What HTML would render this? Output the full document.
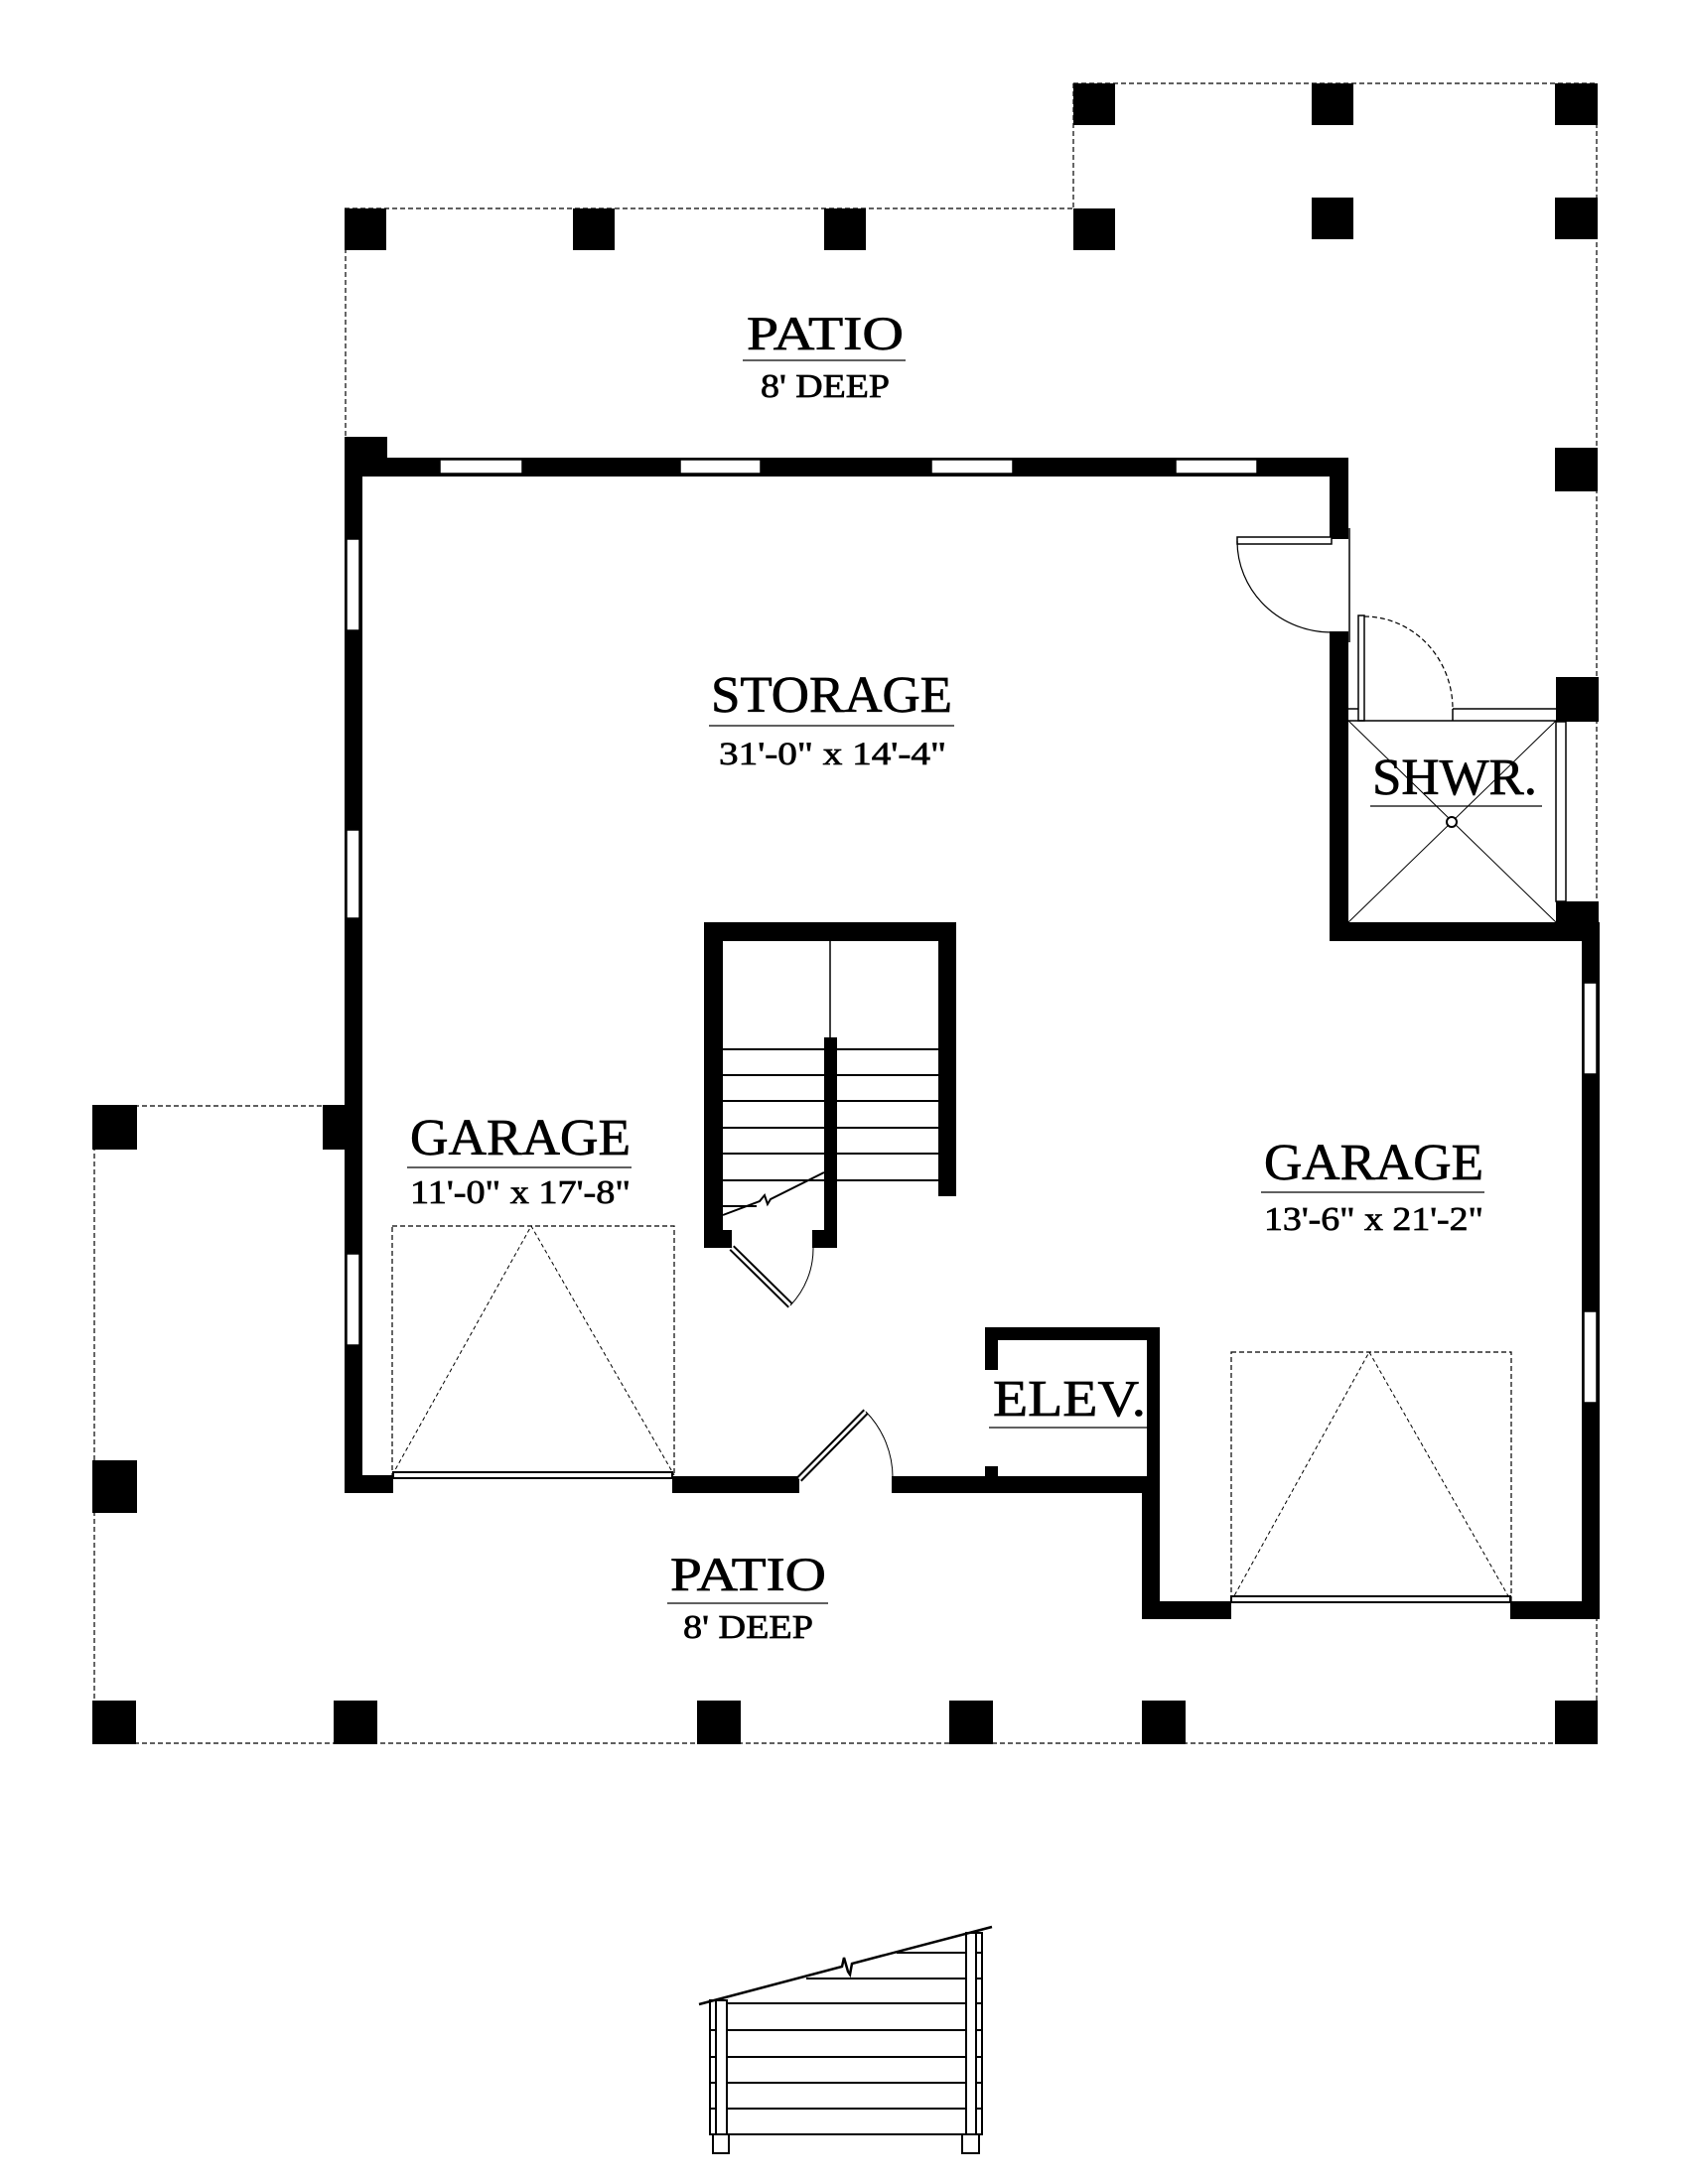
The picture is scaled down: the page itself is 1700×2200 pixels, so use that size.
<!DOCTYPE html>
<html><head><meta charset="utf-8"><style>
html,body{margin:0;padding:0;background:#fff;}
svg{display:block;}
text{font-family:"Liberation Serif",serif;fill:#000;stroke:#000;stroke-width:0.7;}
</style></head><body>
<svg width="1700" height="2200" viewBox="0 0 1700 2200" xmlns="http://www.w3.org/2000/svg">
<rect width="1700" height="2200" fill="#fff"/>
<g stroke="#000" stroke-width="1.2" stroke-dasharray="5,3" fill="none">
<line x1="1081" y1="84" x2="1608" y2="84"/>
<line x1="1081" y1="84" x2="1081" y2="210"/>
<line x1="347" y1="210" x2="1081" y2="210"/>
<line x1="348" y1="210" x2="348" y2="450"/>
<line x1="1608" y1="84" x2="1608" y2="1757"/>
<line x1="95" y1="1114" x2="347" y2="1114"/>
<line x1="95" y1="1114" x2="95" y2="1757"/>
<line x1="95" y1="1756" x2="1608" y2="1756"/>
</g>
<g fill="#000">
<rect x="1081" y="84" width="42" height="42"/>
<rect x="1321" y="84" width="42" height="42"/>
<rect x="1566" y="84" width="43" height="42"/>
<rect x="347" y="210" width="42" height="42"/>
<rect x="577" y="210" width="42" height="42"/>
<rect x="830" y="210" width="42" height="42"/>
<rect x="1081" y="210" width="42" height="42"/>
<rect x="1321" y="199" width="42" height="42"/>
<rect x="1566" y="199" width="43" height="42"/>
<rect x="1566" y="451" width="43" height="44"/>
<rect x="1567" y="682" width="43" height="45"/>
<rect x="93" y="1113" width="45" height="45"/>
<rect x="325" y="1113" width="22" height="45"/>
<rect x="93" y="1471" width="45" height="53"/>
<rect x="93" y="1713" width="44" height="44"/>
<rect x="336" y="1713" width="44" height="44"/>
<rect x="702" y="1713" width="44" height="44"/>
<rect x="956" y="1713" width="44" height="44"/>
<rect x="1150" y="1713" width="44" height="44"/>
<rect x="1566" y="1713" width="43" height="44"/>
</g>
<g fill="#000">
<rect x="347" y="440" width="43" height="40"/>
<rect x="347" y="461" width="1011" height="19"/>
<rect x="347" y="461" width="18" height="1043"/>
<rect x="1339" y="461" width="19" height="82"/>
<rect x="1339" y="636" width="19" height="312"/>
<rect x="1339" y="929" width="272" height="19"/>
<rect x="1567" y="908" width="43" height="40"/>
<rect x="1593" y="929" width="18" height="702"/>
<rect x="347" y="1486" width="49" height="18"/>
<rect x="677" y="1487" width="128" height="17"/>
<rect x="898" y="1487" width="270" height="17"/>
<rect x="1150" y="1487" width="18" height="144"/>
<rect x="1150" y="1613" width="90" height="18"/>
<rect x="1521" y="1613" width="90" height="18"/>
<rect x="992" y="1337" width="176" height="13"/>
<rect x="1155" y="1337" width="13" height="167"/>
<rect x="992" y="1337" width="13" height="43"/>
<rect x="992" y="1477" width="13" height="12"/>
<rect x="709" y="929" width="254" height="19"/>
<rect x="709" y="929" width="19" height="328"/>
<rect x="945" y="929" width="18" height="276"/>
<rect x="709" y="1239" width="28" height="18"/>
<rect x="830" y="1045" width="13" height="212"/>
<rect x="818" y="1239" width="25" height="18"/>
</g>
<g fill="#fff" stroke="#000" stroke-width="1.5">
<rect x="443" y="463" width="83" height="14"/>
<rect x="685" y="463" width="81" height="14"/>
<rect x="938" y="463" width="82" height="14"/>
<rect x="1184" y="463" width="82" height="14"/>
<rect x="349" y="543" width="13" height="92"/>
<rect x="349" y="836" width="13" height="89"/>
<rect x="349" y="1263" width="13" height="92"/>
<rect x="1595" y="990" width="13" height="92"/>
<rect x="1595" y="1321" width="13" height="92"/>
<rect x="1246" y="541" width="95" height="7"/>
<rect x="1368" y="620" width="6" height="106"/>
<rect x="1567" y="727" width="10" height="181"/>
</g>
<g stroke="#000" stroke-width="1.5" fill="none">
<line x1="1359" y1="532" x2="1359" y2="647"/>
<path d="M1246,545 A95,92 0 0 0 1341,637" stroke-width="1.2"/>
<path d="M1374,621 A89,93 0 0 1 1463,714" stroke-dasharray="5,3" stroke-width="1.2"/>
<line x1="1358" y1="714" x2="1368" y2="714"/>
<line x1="1358" y1="726" x2="1567" y2="726"/>
<line x1="1463" y1="714" x2="1567" y2="714"/>
<line x1="1463" y1="714" x2="1463" y2="726"/>
<line x1="1358" y1="726" x2="1567" y2="929" stroke-width="1"/>
<line x1="1567" y1="726" x2="1358" y2="929" stroke-width="1"/>
<circle cx="1462" cy="828" r="5" fill="#fff" stroke-width="2"/>
<line x1="836" y1="948" x2="836" y2="1045"/>
<g stroke-width="2">
<line x1="728" y1="1057" x2="945" y2="1057"/>
<line x1="728" y1="1083" x2="945" y2="1083"/>
<line x1="728" y1="1109" x2="945" y2="1109"/>
<line x1="728" y1="1136" x2="945" y2="1136"/>
<line x1="728" y1="1162" x2="945" y2="1162"/>
<line x1="728" y1="1189" x2="945" y2="1189"/>
<line x1="728" y1="1215" x2="762" y2="1215"/>
<polyline points="728,1224 765,1210 770,1204 773,1213 776,1208 830,1181"/>
</g>
<line x1="737" y1="1257" x2="796" y2="1315" stroke-width="7"/>
<line x1="737" y1="1257" x2="796" y2="1315" stroke="#fff" stroke-width="3"/>
<path d="M796,1315 A83,83 0 0 0 819,1257" stroke-width="1"/>
<line x1="805" y1="1490" x2="872" y2="1422" stroke-width="7"/>
<line x1="805" y1="1490" x2="872" y2="1422" stroke="#fff" stroke-width="3"/>
<path d="M872,1422 A95,95 0 0 1 899,1490" stroke-width="1"/>
</g>
<g stroke="#000" fill="none">
<rect x="395" y="1235" width="284" height="251" stroke-width="1.2" stroke-dasharray="5,3"/>
<polyline points="395,1486 535,1235 679,1486" stroke-width="1" stroke-dasharray="4,3"/>
<rect x="396" y="1483" width="281" height="6" fill="#fff" stroke-width="2"/>
<rect x="1240" y="1362" width="282" height="251" stroke-width="1.2" stroke-dasharray="5,3"/>
<polyline points="1240,1613 1379,1362 1522,1613" stroke-width="1" stroke-dasharray="4,3"/>
<rect x="1240" y="1608" width="281" height="6" fill="#fff" stroke-width="2"/>
</g>
<g stroke="#000" stroke-width="1.3">
<line x1="748" y1="363" x2="912" y2="363"/>
<line x1="714" y1="731" x2="961" y2="731"/>
<line x1="410" y1="1176" x2="636" y2="1176"/>
<line x1="1270" y1="1201" x2="1495" y2="1201"/>
<line x1="1380" y1="812" x2="1553" y2="812"/>
<line x1="996" y1="1438" x2="1155" y2="1438"/>
<line x1="672" y1="1615" x2="834" y2="1615"/>
</g>
<text x="752" y="352" font-size="48" textLength="158" lengthAdjust="spacingAndGlyphs">PATIO</text>
<text x="766" y="400" font-size="34" textLength="130" lengthAdjust="spacingAndGlyphs">8' DEEP</text>
<text x="716" y="717" font-size="52" textLength="243" lengthAdjust="spacingAndGlyphs">STORAGE</text>
<text x="724" y="770" font-size="33" textLength="229" lengthAdjust="spacingAndGlyphs">31'-0" x 14'-4"</text>
<text x="1382" y="800" font-size="52" textLength="166" lengthAdjust="spacingAndGlyphs">SHWR.</text>
<text x="413" y="1163" font-size="52" textLength="222" lengthAdjust="spacingAndGlyphs">GARAGE</text>
<text x="413" y="1212" font-size="34" textLength="222" lengthAdjust="spacingAndGlyphs">11'-0" x 17'-8"</text>
<text x="1273" y="1188" font-size="52" textLength="221" lengthAdjust="spacingAndGlyphs">GARAGE</text>
<text x="1273" y="1239" font-size="34" textLength="221" lengthAdjust="spacingAndGlyphs">13'-6" x 21'-2"</text>
<text x="1000" y="1426" font-size="52" textLength="154" lengthAdjust="spacingAndGlyphs">ELEV.</text>
<text x="675" y="1602" font-size="48" textLength="157" lengthAdjust="spacingAndGlyphs">PATIO</text>
<text x="688" y="1650" font-size="34" textLength="131" lengthAdjust="spacingAndGlyphs">8' DEEP</text>
<g stroke="#000" stroke-width="2" fill="none">
<rect x="715" y="2015" width="17" height="135" fill="#fff"/>
<line x1="721" y1="2015" x2="721" y2="2150"/>
<rect x="973" y="1947" width="16" height="203" fill="#fff"/>
<line x1="983" y1="1947" x2="983" y2="2150"/>
<rect x="718" y="2150" width="16" height="19"/>
<rect x="969" y="2150" width="17" height="19"/>
<line x1="903" y1="1967" x2="973" y2="1967"/>
<line x1="812" y1="1993" x2="973" y2="1993"/>
<line x1="732" y1="2018" x2="973" y2="2018"/>
<line x1="732" y1="2045" x2="973" y2="2045"/>
<line x1="732" y1="2072" x2="973" y2="2072"/>
<line x1="732" y1="2098" x2="973" y2="2098"/>
<line x1="732" y1="2124" x2="973" y2="2124"/>
<line x1="715" y1="2150" x2="989" y2="2150"/>
<line x1="715" y1="2045" x2="721" y2="2045"/>
<line x1="715" y1="2072" x2="721" y2="2072"/>
<line x1="715" y1="2098" x2="721" y2="2098"/>
<line x1="715" y1="2124" x2="721" y2="2124"/>
<line x1="983" y1="1967" x2="989" y2="1967"/>
<line x1="983" y1="1993" x2="989" y2="1993"/>
<line x1="983" y1="2018" x2="989" y2="2018"/>
<line x1="983" y1="2045" x2="989" y2="2045"/>
<line x1="983" y1="2072" x2="989" y2="2072"/>
<line x1="983" y1="2098" x2="989" y2="2098"/>
<line x1="983" y1="2124" x2="989" y2="2124"/>
<polyline points="704,2019 848,1981 850,1972 854,1986 856,1989 858,1978 999,1941" stroke-width="2.5"/>
</g>
</svg>
</body></html>
